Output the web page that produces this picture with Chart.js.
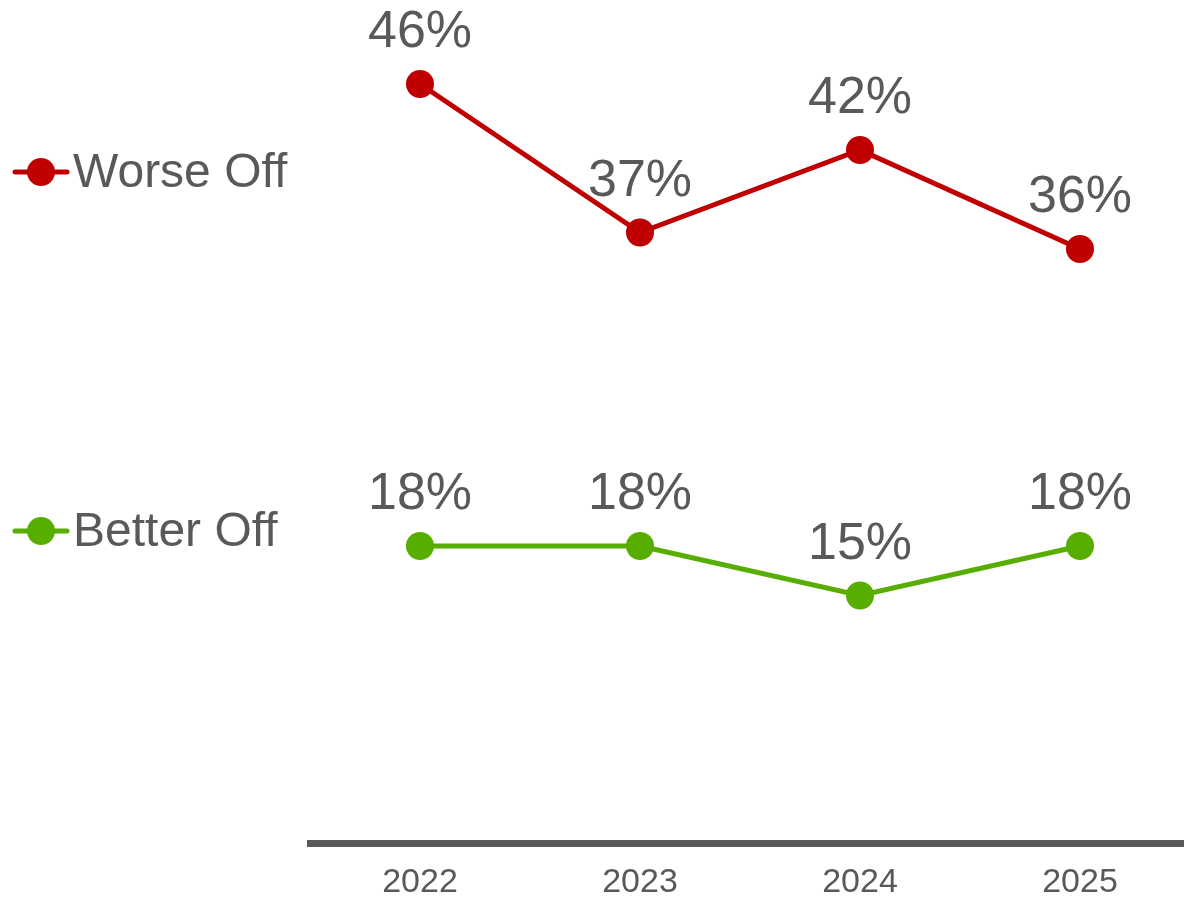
<!DOCTYPE html>
<html>
<head>
<meta charset="utf-8">
<script src="https://cdn.jsdelivr.net/npm/chart.js@4"></script>
<style>
  html, body { margin: 0; padding: 0; background: #fff; overflow: hidden; }
  #grafico { display: block; }
</style>
</head>
<body>
<canvas id="grafico" width="1204" height="900"></canvas>
<script>
const years = ['2022', '2023', '2024', '2025'];
const worseOff = [46, 37, 42, 36];
const betterOff = [18, 18, 15, 18];
const seriesNames = ['Worse Off', 'Better Off'];

const RED = '#C00000';
const GREEN = '#58AE00';
const GRAY = '#595959';
const FONT = '"Liberation Sans", Arial, sans-serif';

// rótulos de valor em cima de cada ponto
const valueLabels = {
  id: 'valueLabels',
  afterDatasetsDraw(chart) {
    const ctx = chart.ctx;
    ctx.save();
    ctx.font = '52px ' + FONT;
    ctx.fillStyle = GRAY;
    ctx.textAlign = 'center';
    ctx.textBaseline = 'alphabetic';
    chart.data.datasets.forEach((ds, i) => {
      chart.getDatasetMeta(i).data.forEach((pt, j) => {
        ctx.fillText(ds.data[j] + '%', pt.x, pt.y - 37);
      });
    });
    ctx.restore();
  }
};

// legenda à esquerda, ao lado de cada linha
const sideLegend = {
  id: 'sideLegend',
  afterDraw(chart) {
    const ctx = chart.ctx;
    const rows = [172, 531];
    ctx.save();
    chart.data.datasets.forEach((ds, i) => {
      const y = rows[i];
      ctx.strokeStyle = ds.borderColor;
      ctx.lineWidth = 5;
      ctx.lineCap = 'round';
      ctx.beginPath();
      ctx.moveTo(15, y);
      ctx.lineTo(67, y);
      ctx.stroke();
      ctx.fillStyle = ds.borderColor;
      ctx.beginPath();
      ctx.arc(41, y, 14, 0, Math.PI * 2);
      ctx.fill();
      ctx.font = '48px ' + FONT;
      ctx.fillStyle = GRAY;
      ctx.textAlign = 'left';
      ctx.textBaseline = 'alphabetic';
      ctx.fillText(ds.label, 73, y + 15);
    });
    ctx.restore();
  }
};

const ctx = document.getElementById('grafico').getContext('2d');
new Chart(ctx, {
  type: 'line',
  data: {
    labels: years,
    datasets: [
      {
        label: seriesNames[0],
        data: worseOff,
        borderColor: RED,
        backgroundColor: RED,
        borderWidth: 5,
        pointRadius: 14,
        pointBorderWidth: 0,
        pointBackgroundColor: RED,
        tension: 0,
        clip: false
      },
      {
        label: seriesNames[1],
        data: betterOff,
        borderColor: GREEN,
        backgroundColor: GREEN,
        borderWidth: 5,
        pointRadius: 14,
        pointBorderWidth: 0,
        pointBackgroundColor: GREEN,
        tension: 0,
        clip: false
      }
    ]
  },
  options: {
    responsive: false,
    animation: false,
    layout: { padding: { left: 310, right: 1, top: 18, bottom: 0 } },
    plugins: {
      legend: { display: false },
      tooltip: { enabled: false }
    },
    scales: {
      x: {
        offset: true,
        grid: { display: false, drawTicks: false },
        border: { display: true, color: GRAY, width: 7 },
        ticks: {
          color: GRAY,
          font: { family: FONT, size: 34 },
          padding: 19
        },
        afterFit(scale) { scale.height = 57; }
      },
      y: {
        display: false,
        min: 0,
        max: 50
      }
    }
  },
  plugins: [valueLabels, sideLegend]
});
</script>
</body>
</html>
